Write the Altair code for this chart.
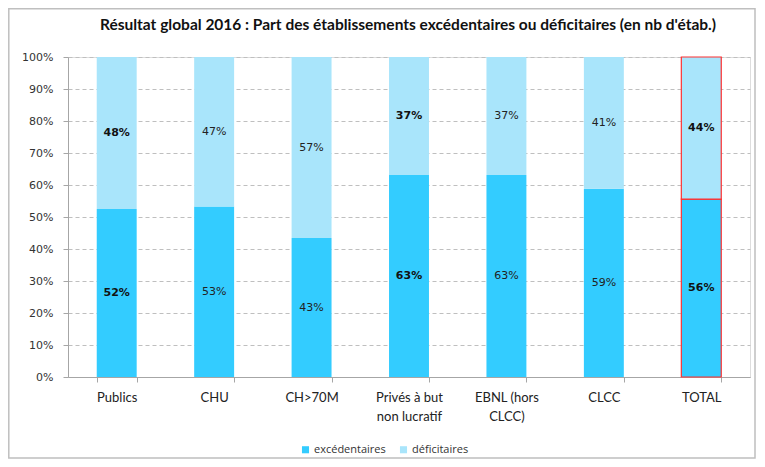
import altair as alt
import pandas as pd

title_text = "Résultat global 2016 : Part des établissements excédentaires ou déficitaires (en nb d'étab.)"
categories = ["Publics", "CHU", "CH>70M", "Privés à but non lucratif", "EBNL (hors CLCC)", "CLCC", "TOTAL"]
excedentaires = [52.5, 53.3, 43.4, 63.1, 63.1, 58.8, 55.6]
deficitaires = [47.5, 46.7, 56.6, 36.9, 36.9, 41.2, 44.4]
labels_exc = ["52%", "53%", "43%", "63%", "63%", "59%", "56%"]
labels_def = ["48%", "47%", "57%", "37%", "37%", "41%", "44%"]
bold_flags = [True, False, False, True, False, False, True]
series = ["excédentaires", "déficitaires"]
colors = ["#33CCFF", "#A9E5FB"]
y_ticks = [0.0, 0.1, 0.2, 0.3, 0.4, 0.5, 0.6, 0.7, 0.8, 0.9, 1.0]

rows = []
for i, c in enumerate(categories):
    e, d = excedentaires[i], deficitaires[i]
    rows.append(dict(cat=c, serie=series[0], value=e / 100, mid=e / 200, label=labels_exc[i], bold=bold_flags[i], o=0))
    rows.append(dict(cat=c, serie=series[1], value=d / 100, mid=(e + d / 2) / 100, label=labels_def[i], bold=bold_flags[i], o=1))
df = pd.DataFrame(rows)

label_expr = ("datum.value == 'Privés à but non lucratif' ? ['Privés à but', 'non lucratif'] : "
              "datum.value == 'EBNL (hors CLCC)' ? ['EBNL (hors', 'CLCC)'] : datum.value")

x_axis = alt.Axis(labelAngle=0, labelExpr=label_expr, tickBand="extent", tickSize=5,
                  labelPadding=9, labelFont="Lato", labelFontSize=13, labelColor="#222222",
                  domainColor="#A6A6A6", tickColor="#A6A6A6", labelLineHeight=19)
x_scale = alt.Scale(paddingInner=0.59, paddingOuter=0.295)
y_axis = alt.Axis(format=".0%", values=y_ticks, tickSize=5, labelPadding=10,
                  labelOverlap=False,
                  labelFont="DejaVu Sans", labelFontSize=11, labelColor="#333333",
                  domainColor="#A6A6A6", tickColor="#A6A6A6",
                  gridColor="#BFBFBF", gridDash=[4, 3], grid=True)
y_scale = alt.Scale(domain=[0, 1])

bars = alt.Chart(df).mark_bar(strokeWidth=1.2).encode(
    x=alt.X("cat:N", sort=categories, title=None, scale=x_scale, axis=x_axis),
    y=alt.Y("value:Q", stack="zero", title=None, scale=y_scale, axis=y_axis),
    color=alt.Color("serie:N", sort=series, scale=alt.Scale(domain=series, range=colors),
                    legend=alt.Legend(title=None, orient="none", direction="horizontal",
                                      legendX=232, legendY=387, symbolType="square", symbolSize=50,
                                      symbolStrokeWidth=0, labelFont="Open Sans", labelFontSize=11,
                                      labelColor="#333333", columnPadding=12, labelOffset=3)),
    order=alt.Order("o:Q"),
    stroke=alt.condition(alt.datum.cat == "TOTAL", alt.value("#FF3030"), alt.value("transparent")),
)

text_bold = alt.Chart(df).transform_filter(alt.datum.bold).mark_text(
    font="DejaVu Sans", fontSize=11, fontWeight="bold", color="#111111").encode(
    x=alt.X("cat:N", sort=categories, title=None, scale=x_scale, axis=x_axis),
    y=alt.Y("mid:Q", title=None, scale=y_scale, axis=y_axis), text="label:N")
text_reg = alt.Chart(df).transform_filter(~alt.datum.bold).mark_text(
    font="DejaVu Sans", fontSize=11, color="#222222").encode(
    x=alt.X("cat:N", sort=categories, title=None, scale=x_scale, axis=x_axis),
    y=alt.Y("mid:Q", title=None, scale=y_scale, axis=y_axis), text="label:N")

frame = alt.Chart(pd.DataFrame({"f": [0]})).mark_rect(fill=None, stroke="#BFBFBF", strokeWidth=1.5, clip=False).encode(
    x=alt.value(-59.2), x2=alt.value(687), y=alt.value(-48.2), y2=alt.value(401))

title = alt.Chart(pd.DataFrame({"t": [title_text]})).mark_text(
    font="Lato", fontSize=15.5, fontWeight="bold", color="#111111", baseline="middle", align="center").encode(
    x=alt.value(340), y=alt.value(-32), text="t:N")

chart = alt.layer(frame, bars, text_bold, text_reg, title).properties(
    width=682, height=320,
    autosize=alt.AutoSizeParams(type="none"),
    padding={"left": 60, "top": 49, "right": 7, "bottom": 82},
).configure_view(strokeWidth=0).configure_axisY(labelOverlap=False).configure(background="white")

chart.save("out.html", embed_options={"renderer": "svg", "actions": False})
